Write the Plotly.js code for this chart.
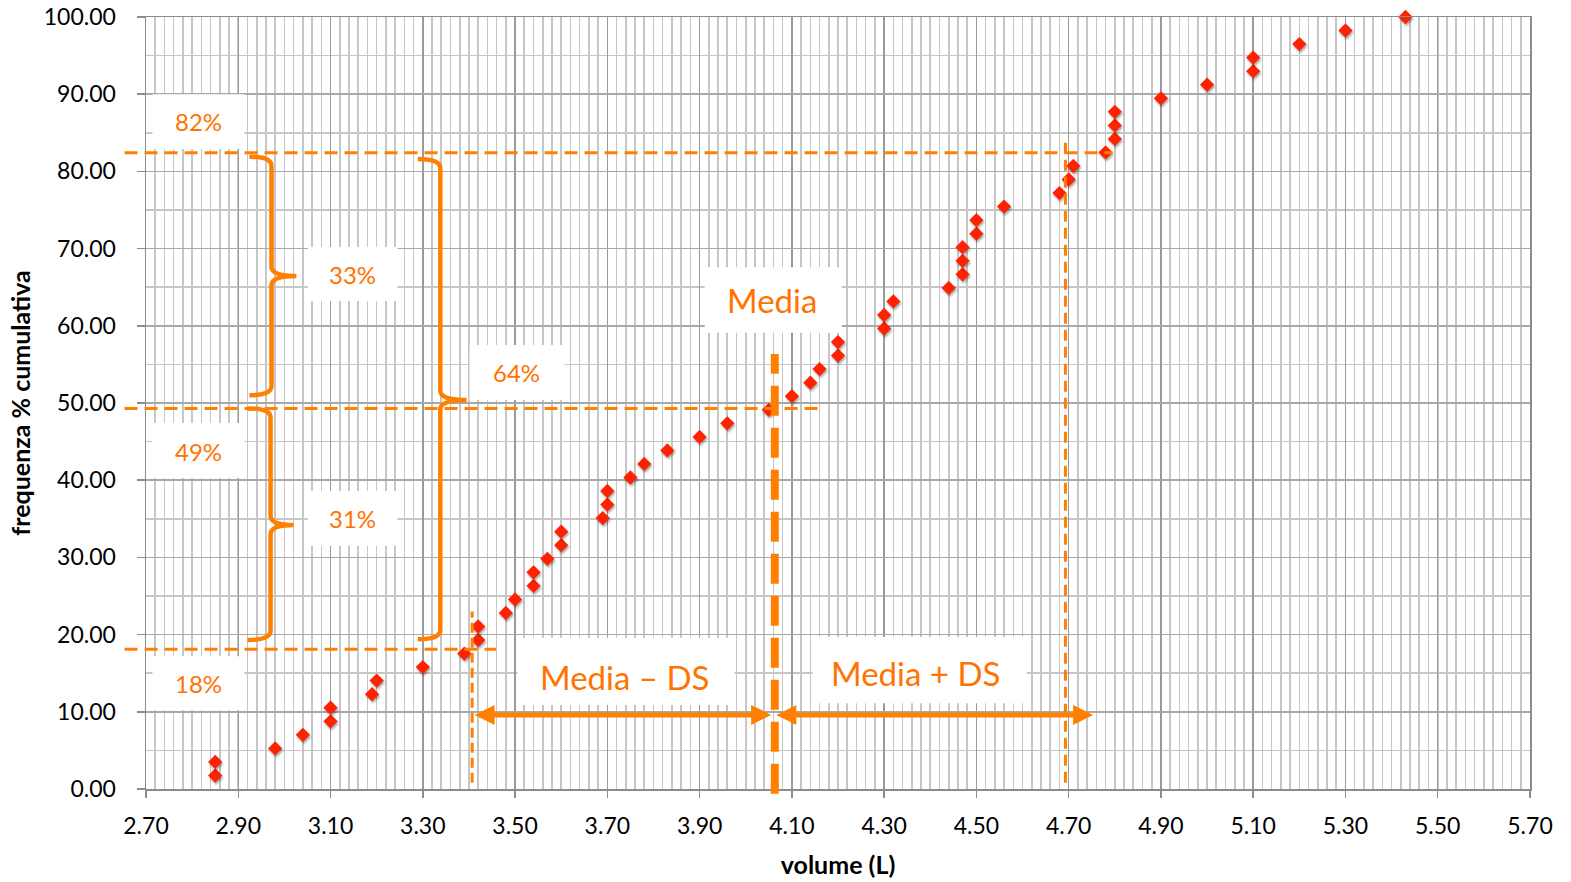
<!DOCTYPE html>
<html>
<head>
<meta charset="utf-8">
<script src="https://cdn.plot.ly/plotly-3.0.1.min.js"></script>
<style>
html,body{margin:0;padding:0;background:#fff;}
#chart{width:1571px;height:882px;}
.scatterlayer .point{filter:drop-shadow(1px 2px 1.2px rgba(0,0,0,0.35));}
</style>
</head>
<body>
<div id="chart"></div>
<script>
// ---- data ----
const volume = [2.85,2.85,2.98,3.04,3.10,3.10,3.19,3.20,3.30,3.39,3.42,3.42,3.48,3.50,3.54,3.54,3.57,3.60,3.60,3.69,3.70,3.70,3.75,3.78,3.83,3.90,3.96,4.05,4.10,4.14,4.16,4.20,4.20,4.30,4.30,4.32,4.44,4.47,4.47,4.47,4.50,4.50,4.56,4.68,4.70,4.71,4.78,4.80,4.80,4.80,4.90,5.00,5.10,5.10,5.20,5.30,5.43];
const freqCum = [1.75,3.51,5.26,7.02,8.77,10.53,12.28,14.04,15.79,17.54,19.30,21.05,22.81,24.56,26.32,28.07,29.82,31.58,33.33,35.09,36.84,38.60,40.35,42.11,43.86,45.61,47.37,49.12,50.88,52.63,54.39,56.14,57.89,59.65,61.40,63.16,64.91,66.67,68.42,70.18,71.93,73.68,75.44,77.19,78.95,80.70,82.46,84.21,85.96,87.72,89.47,91.23,92.98,94.74,96.49,98.25,100.00];
const xTickVals = [2.7,2.9,3.1,3.3,3.5,3.7,3.9,4.1,4.3,4.5,4.7,4.9,5.1,5.3,5.5,5.7];
const xTickText = ["2.70","2.90","3.10","3.30","3.50","3.70","3.90","4.10","4.30","4.50","4.70","4.90","5.10","5.30","5.50","5.70"];
const yTickVals = [0,10,20,30,40,50,60,70,80,90,100];
const yTickText = ["0.00","10.00","20.00","30.00","40.00","50.00","60.00","70.00","80.00","90.00","100.00"];

// annotation levels / values
const pctLabels = ["82%","49%","18%","33%","31%","64%"];
const levels = {high: 82.4, mean: 49.3, low: 18.1};
const xMean = 4.063, xMinusDS = 3.407, xPlusDS = 4.693;

const ORANGE = '#FF8000';
const TXT = '#FF7300';
const FONT = 'Lato, "Open Sans", sans-serif';

const paperX = v => (v - 2.7) / 3;

function brace(xe, xs, xt, yt, ym, yb) {
  const ry = 1.2;
  return `M${xe},${yt} Q${xs},${yt} ${xs},${yt-ry} L${xs},${ym+ry} Q${xs},${ym} ${xt},${ym} ` +
         `Q${xs},${ym} ${xs},${ym-ry} L${xs},${yb+ry} Q${xs},${yb} ${xe},${yb}`;
}
function box(x0, x1, y0, y1) {
  return {type:'rect', xref:'x', yref:'y', x0, x1, y0, y1, fillcolor:'#ffffff', line:{width:0}, layer:'above'};
}

const shapes = [
  box(2.714, 2.9135, 82.9, 90.0),
  box(2.714, 2.9135, 40.3, 47.4),
  box(2.714, 2.9135, 10.2, 17.2),
  box(3.0507, 3.2452, 63.2, 70.2),
  box(3.0507, 3.2452, 31.5, 38.6),
  box(3.4014, 3.6073, 50.4, 57.5),
  box(3.911, 4.208, 59.1, 67.6),
  box(3.5054, 3.9759, 10.9, 19.6),
  box(4.145, 4.609, 11.1, 19.7),
  // horizontal dashed lines
  {type:'line', xref:'paper', yref:'y', x0:-0.0155, x1:paperX(4.795), y0:levels.high, y1:levels.high, line:{color:ORANGE, width:3, dash:'13px,7px'}, layer:'above'},
  {type:'line', xref:'paper', yref:'y', x0:-0.0155, x1:paperX(4.156), y0:levels.mean, y1:levels.mean, line:{color:ORANGE, width:3, dash:'13px,7px'}, layer:'above'},
  {type:'line', xref:'paper', yref:'y', x0:-0.0155, x1:paperX(3.459), y0:levels.low, y1:levels.low, line:{color:ORANGE, width:3, dash:'13px,7px'}, layer:'above'},
  // vertical dashed lines
  {type:'line', xref:'x', yref:'paper', x0:xMinusDS, x1:xMinusDS, y0:0.008, y1:0.23, line:{color:ORANGE, width:3, dash:'10px,5px'}, layer:'above'},
  {type:'line', xref:'x', yref:'paper', x0:xPlusDS, x1:xPlusDS, y0:0.008, y1:0.842, line:{color:ORANGE, width:3, dash:'11px,6px'}, layer:'above'},
  {type:'line', xref:'x', yref:'paper', x0:xMean, x1:xMean, y0:-0.006, y1:0.5635, line:{color:ORANGE, width:8, dash:'30px,12px'}, layer:'above'},
  // braces
  {type:'path', xref:'x', yref:'y', path:brace(2.924, 2.972, 3.026, 81.9, 66.45, 51.0), line:{color:ORANGE, width:4.5}, layer:'above'},
  {type:'path', xref:'x', yref:'y', path:brace(2.920, 2.970, 3.020, 49.3, 34.2, 19.3), line:{color:ORANGE, width:4.5}, layer:'above'},
  {type:'path', xref:'x', yref:'y', path:brace(3.289, 3.338, 3.395, 81.6, 50.4, 19.4), line:{color:ORANGE, width:4.5}, layer:'above'}
];

function label(text, x, y, size) {
  return {x, y, xref:'x', yref:'y', text, showarrow:false, font:{family:FONT, size, color:TXT}, xanchor:'center', yanchor:'middle'};
}
function arrow(x0, x1, y) {
  return {x:x1, y, ax:x0, ay:y, xref:'x', yref:'y', axref:'x', ayref:'y', text:'', showarrow:true,
    arrowhead:2, startarrowhead:2, arrowside:'end+start', arrowwidth:5, arrowsize:0.8, startarrowsize:0.8,
    arrowcolor:ORANGE, standoff:0, startstandoff:0};
}

const annotations = [
  label(pctLabels[0], 2.8138, 86.5, 24),
  label(pctLabels[1], 2.8138, 43.7, 24),
  label(pctLabels[2], 2.8138, 13.7, 24),
  label(pctLabels[3], 3.1475, 66.7, 24),
  label(pctLabels[4], 3.1475, 35.1, 24),
  label(pctLabels[5], 3.503, 53.9, 24),
  label('Media', 4.058, 63.3, 33),
  label('Media – DS', 3.737, 14.5, 33),
  label('Media + DS', 4.368, 15.0, 33),
  arrow(3.409, 4.055, 9.6),
  arrow(4.063, 4.753, 9.6)
];

const trace = {
  x: volume, y: freqCum, type:'scatter', mode:'markers',
  marker:{symbol:'diamond', size:11, color:'#FF2200', line:{width:0}},
  hoverinfo:'x+y', cliponaxis:false
};

const layout = {
  width:1571, height:882,
  margin:{l:146, r:41, t:17, b:93, pad:0},
  paper_bgcolor:'#ffffff', plot_bgcolor:'#ffffff',
  showlegend:false,
  font:{family:FONT, size:22, color:'#000'},
  xaxis:{
    range:[2.7, 5.7], tickmode:'array', tickvals:xTickVals, ticktext:xTickText,
    ticks:'outside', ticklen:7, tickwidth:1.5, tickcolor:'#8c8c8c', ticklabelstandoff:9,
    showgrid:true, gridcolor:'#9a9a9a', gridwidth:1.5,
    minor:{tick0:2.7, dtick:0.02, showgrid:true, gridcolor:'#c6c6c6', gridwidth:1.6, ticks:''},
    showline:true, linecolor:'#8c8c8c', linewidth:1.5, mirror:true, zeroline:false,
    tickfont:{family:FONT, size:23, color:'#000'},
    title:{text:'<b>volume (L)</b>', font:{family:FONT, size:25, color:'#000'}, standoff:18}
  },
  yaxis:{
    range:[0, 100], tickmode:'array', tickvals:yTickVals, ticktext:yTickText,
    ticks:'outside', ticklen:8, tickwidth:1.5, tickcolor:'#8c8c8c', ticklabelstandoff:16,
    showgrid:true, gridcolor:'#a8a8a8', gridwidth:1.5,
    minor:{tick0:0, dtick:5, showgrid:true, gridcolor:'#c6c6c6', gridwidth:1.6, ticks:''},
    showline:true, linecolor:'#8c8c8c', linewidth:1.5, mirror:true, zeroline:false,
    tickfont:{family:FONT, size:23, color:'#000'},
    title:{text:'<b>frequenza % cumulativa</b>', font:{family:FONT, size:25, color:'#000'}, standoff:6}
  },
  shapes, annotations
};

Plotly.newPlot('chart', [trace], layout, {displayModeBar:false, staticPlot:true});
</script>
</body>
</html>
